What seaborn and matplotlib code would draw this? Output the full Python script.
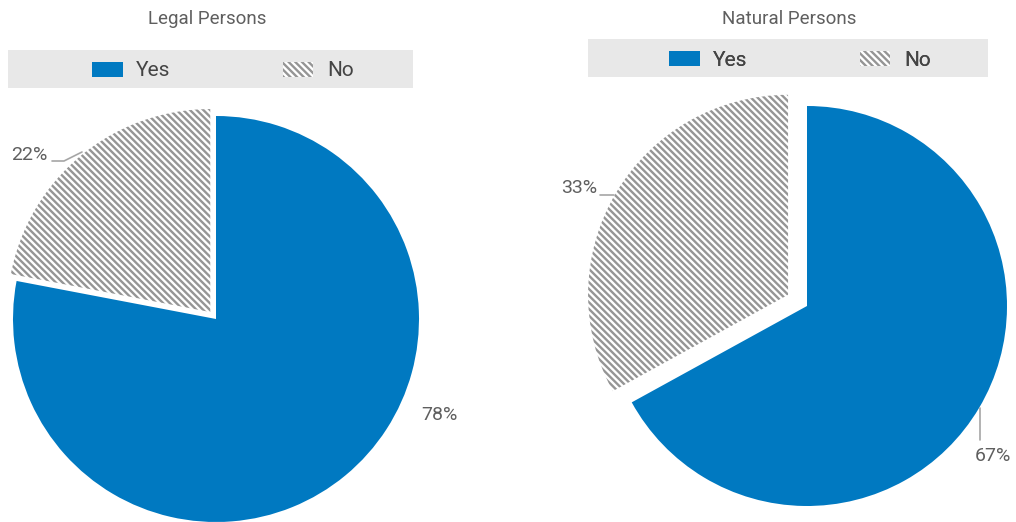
import matplotlib
matplotlib.use("Agg")
import matplotlib.pyplot as plt
import seaborn as sns
from matplotlib.patches import Patch, Rectangle

# chart data
titles = ["Legal Persons", "Natural Persons"]
categories = ["Yes", "No"]
yes_pct = [78, 67]
no_pct = [22, 33]

BLUE = "#0079c1"
STRIPE = "#959595"
TEXT = "#5f5f5f"
HATCH = "\\" * 5


def main():
    sns.set_theme(style="white")
    plt.rcParams["font.family"] = ["Roboto", "DejaVu Sans"]
    plt.rcParams["hatch.linewidth"] = 1.7
    plt.rcParams["hatch.color"] = STRIPE

    fig = plt.figure(figsize=(10.16, 5.22), dpi=100)
    # one axes spanning the figure, data units == pixels (y up)
    ax = fig.add_axes([0, 0, 1, 1])

    # pie geometry (pixels)
    centers = [(216, 203), (807, 216)]
    radii = [203, 200]
    explodes = [9, 22]

    for i in range(2):
        wedges, _ = ax.pie([yes_pct[i], no_pct[i]], center=centers[i], radius=radii[i],
                           startangle=90, counterclock=False,
                           explode=[0, explodes[i]], colors=[BLUE, "white"],
                           wedgeprops=dict(linewidth=0))
        wedges[1].set_edgecolor(STRIPE)
        wedges[1].set_hatch(HATCH)
        wedges[1].set_linewidth(0)

    ax.set_xlim(0, 1016)
    ax.set_ylim(0, 522)
    ax.set_aspect("equal")
    ax.axis("off")

    # titles
    ax.text(207, 503, titles[0], ha="center", va="center", fontsize=13.5, color=TEXT)
    ax.text(789, 503, titles[1], ha="center", va="center", fontsize=13.5, color=TEXT)

    # legends on grey bands
    boxes = [(8, 434, 405, 38), (588, 445, 400, 38)]
    legend_centers = [(223, 451), (800, 462)]
    handles = [Patch(facecolor=BLUE, edgecolor=BLUE, linewidth=0),
               Patch(facecolor="white", edgecolor=STRIPE, hatch=HATCH, linewidth=0)]
    for (bx, by, bw, bh), (lx, ly) in zip(boxes, legend_centers):
        ax.add_patch(Rectangle((bx, by), bw, bh, facecolor="#e8e8e8", edgecolor="none"))
        leg = ax.legend(handles, categories, ncol=2, frameon=False, loc="center",
                        bbox_to_anchor=(lx, ly), bbox_transform=ax.transData,
                        fontsize=15, handlelength=1.45, handleheight=0.75,
                        handletextpad=0.65, columnspacing=5.4, labelcolor="#444444")
        ax.add_artist(leg)

    # data labels with leader lines
    lbl = dict(fontsize=14, color=TEXT, va="center")
    line = dict(color="#a6a6a6", linewidth=1.2)
    ax.text(48, 367, f"{no_pct[0]}%", ha="right", **lbl)
    ax.plot([52, 64, 82], [361, 361, 370], **line)
    ax.text(439, 107, f"{yes_pct[0]}%", ha="center", **lbl)

    ax.text(597, 334, f"{no_pct[1]}%", ha="right", **lbl)
    ax.plot([600, 614], [327, 327], **line)
    ax.text(993, 66, f"{yes_pct[1]}%", ha="center", **lbl)
    ax.plot([980, 980], [114, 82], **line)

    fig.savefig("out.png", dpi=100)


if __name__ == "__main__":
    main()
